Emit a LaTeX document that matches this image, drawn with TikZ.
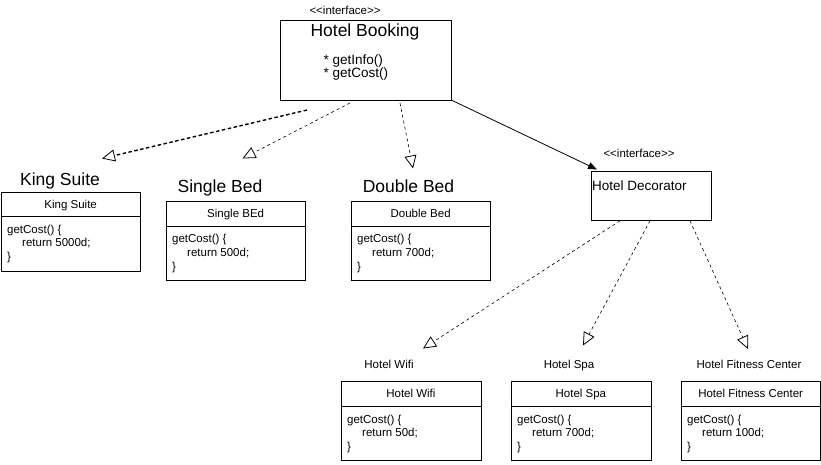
\documentclass[tikz,border=0pt]{standalone}
\usepackage{fontspec}
\setmainfont{Liberation Sans}
\usetikzlibrary{arrows.meta,calc}
\newcommand\umlclassbox[8]{%
  \node[classbox, minimum width=#4, minimum height=#6, anchor=north west] (#1) at (#2,#3) {};
  \draw[boxline] ($(#1.north west)+(0,#5)$) -- ($(#1.north east)+(0,#5)$);
  \node[bodytxt, anchor=base] (#1-h) at ($(#1.north)+(0,#5/2+4)$) {#7};
  \node[bodytxt, anchor=base west] (#1-a) at ($(#1.north west)+(6.5,#5+16.6)$) {getCost() \{};
  \node[bodytxt, anchor=base west] (#1-b) at ($(#1.north west)+(21.5,#5+30.4)$) {return #8;};
  \node[bodytxt, anchor=base west] (#1-c) at ($(#1.north west)+(6.5,#5+44.2)$) {\}};
}
\begin{document}
\begin{tikzpicture}[x=1pt,y=-1pt,
  classbox/.style={draw, line width=0.8pt, rectangle, inner sep=0pt, fill=white},
  boxline/.style={line width=0.8pt},
  bodytxt/.style={inner sep=0pt, font=\fontsize{11.5}{14}\selectfont},
  bigtxt/.style={inner sep=0pt, font=\fontsize{17.5}{20}\selectfont},
  midtxt/.style={inner sep=0pt, font=\fontsize{13.5}{16}\selectfont},
  smalltxt/.style={inner sep=0pt, font=\fontsize{11.5}{14}\selectfont},
  realize/.style={line width=0.6pt, dash pattern=on 3pt off 3pt, -{Triangle[open,length=13pt,width=12pt,line width=0.8pt]}},
  realizebold/.style={line width=1.4pt, dash pattern=on 3.5pt off 2.5pt, -{Triangle[open,length=13pt,width=12pt,line width=0.8pt]}},
  assoc/.style={line width=0.8pt, -{Triangle[length=9pt,width=7pt]}}
]
\useasboundingbox (0,0) rectangle (821,464);

% Hotel Booking interface
\node[smalltxt, anchor=base] (hbst) at (345,14) {{<}{<}interface{>}{>}};
\node[classbox, minimum width=171, minimum height=79.5, anchor=north west] (hb) at (280,20) {};
\node[bigtxt, anchor=base] (hbt) at (365,36.5) {Hotel Booking};
\node[midtxt, anchor=base west] (hbm1) at (323.5,64) {* getInfo()};
\node[midtxt, anchor=base west] (hbm2) at (323.5,77.5) {* getCost()};

% Hotel Decorator interface
\node[smalltxt, anchor=base] (hdst) at (639,157.5) {{<}{<}interface{>}{>}};
\node[classbox, minimum width=120, minimum height=49.5, anchor=north west] (hd) at (590.5,170.5) {};
\node[midtxt, anchor=base west] (hdt) at (592,190) {Hotel Decorator};

% concrete classes
\node[bigtxt, anchor=base] (lks) at (60,185) {King Suite};
\umlclassbox{ks}{0.5}{191.5}{139.5}{25}{79.5}{King Suite}{5000d}
\node[bigtxt, anchor=base] (lsb) at (220,192.5) {Single Bed};
\umlclassbox{sb}{165.5}{200.5}{139.5}{25.5}{79.5}{Single BEd}{500d}
\node[bigtxt, anchor=base] (ldb) at (408.5,192.5) {Double Bed};
\umlclassbox{db}{350.5}{200.5}{139.5}{25.5}{79.5}{Double Bed}{700d}

% decorators
\node[smalltxt, anchor=base] (lwf) at (389,368) {Hotel Wifi};
\umlclassbox{wf}{340.5}{380.5}{140}{26}{79.5}{Hotel Wifi}{50d}
\node[smalltxt, anchor=base] (lsp) at (569,368) {Hotel Spa};
\umlclassbox{sp}{510.5}{380.5}{140}{26}{79.5}{Hotel Spa}{700d}
\node[smalltxt, anchor=base] (lfc) at (749,368) {Hotel Fitness Center};
\umlclassbox{fc}{680.5}{380.5}{139.5}{26}{79.5}{Hotel Fitness Center}{100d}

% connector end points
\coordinate (s1) at (307,110);
\coordinate (t1) at (102,158.5);
\coordinate (s2) at (350,103);
\coordinate (t2) at (242.5,158.5);
\coordinate (s3) at (400,103);
\coordinate (t3) at (413,168.5);
\coordinate (t4) at (597,169.5);
\coordinate (t5) at (423,348.5);
\coordinate (t6) at (583,345.5);
\coordinate (t7) at (748,349);

\draw[realizebold] (s1) -- (t1);
\draw[realize] (s2) -- (t2);
\draw[realize] (s3) -- (t3);
\draw[assoc] (hb.south east) -- (t4);
\draw[realize] ($(hd.south west)+(29.5,0)$) -- (t5);
\draw[realize] ($(hd.south west)+(59.5,0)$) -- (t6);
\draw[realize] ($(hd.south west)+(99.5,0)$) -- (t7);
\end{tikzpicture}
\end{document}
